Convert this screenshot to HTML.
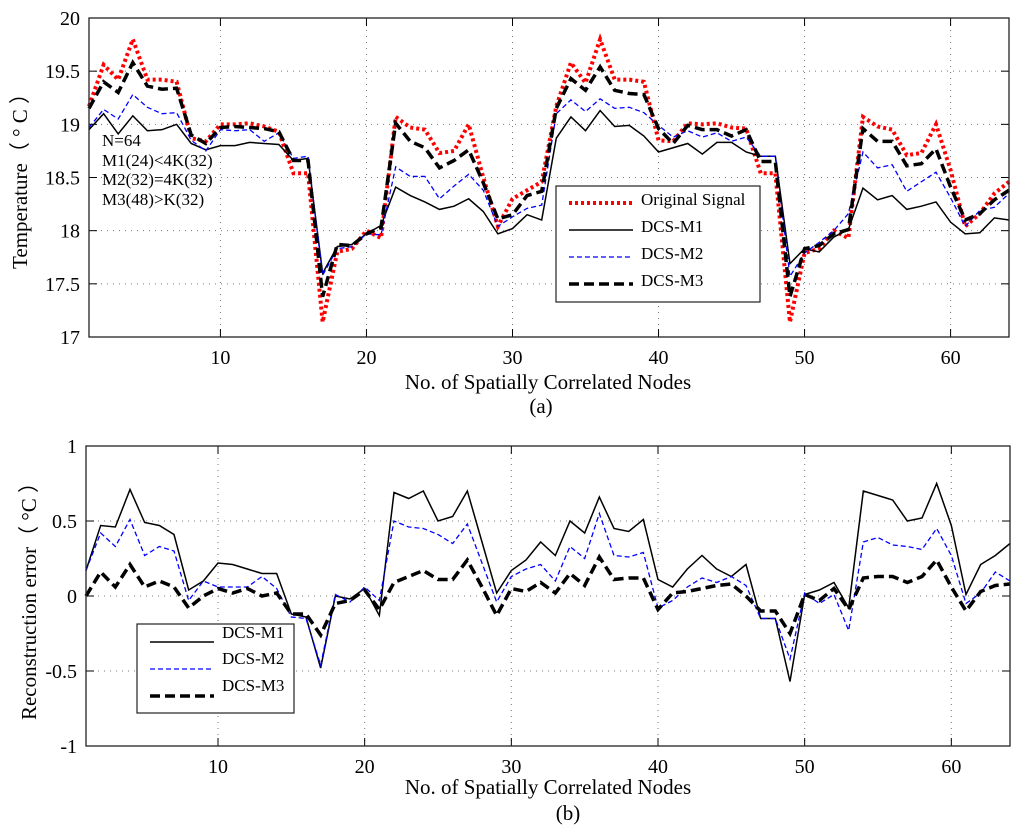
<!DOCTYPE html>
<html><head><meta charset="utf-8"><style>
body{margin:0;background:#fff}
svg{display:block;font-family:"Liberation Serif",serif}
</style></head><body>
<svg id="chart" width="1024" height="836" viewBox="0 0 1024 836"></svg>
<script>
const nodes = Array.from({length:64},(_,i)=>i+1);
const origSignal = [19.17,19.56,19.42,19.8,19.42,19.42,19.4,18.87,18.84,19.0,19.0,19.01,18.98,18.93,18.54,18.54,17.14,17.8,17.83,18.0,17.93,19.07,18.97,18.95,18.73,18.75,19.0,18.5,18.04,18.3,
18.38,18.46,19.17,19.58,19.39,19.8,19.42,19.42,19.4,18.85,18.84,19.01,19.0,19.01,18.97,18.96,18.54,18.54,17.14,17.79,17.83,18.0,17.93,19.07,18.98,18.95,18.71,18.73,19.0,18.57,18.04,18.16,18.35,18.46];
const dcsM1 = [18.95,19.1,18.91,19.08,18.94,18.95,19.0,18.82,18.76,18.8,18.8,18.83,18.82,18.81,18.66,18.68,17.6,17.85,17.87,17.97,18.05,18.41,18.33,18.27,18.2,18.23,18.3,18.18,17.97,18.02,
18.15,18.1,18.87,19.07,18.94,19.13,18.98,18.99,18.89,18.74,18.78,18.82,18.72,18.83,18.83,18.74,18.7,18.7,17.69,17.83,17.8,17.94,18.01,18.4,18.29,18.33,18.2,18.23,18.27,18.08,17.97,17.98,18.12,18.1];
const dcsM2 = [18.97,19.14,19.05,19.28,19.16,19.1,19.11,18.85,18.75,18.95,18.94,18.95,18.84,18.92,18.68,18.7,17.58,17.83,17.85,17.97,17.96,18.6,18.51,18.51,18.3,18.42,18.53,18.38,18.04,18.13,
18.21,18.24,19.1,19.23,19.12,19.24,19.15,19.16,19.11,18.99,18.88,18.94,18.88,18.92,18.84,18.88,18.7,18.7,17.57,17.79,17.89,18.0,18.16,18.74,18.59,18.62,18.37,18.46,18.55,18.31,18.04,18.19,18.22,18.35];
const dcsM3 = [19.15,19.4,19.3,19.58,19.36,19.33,19.34,18.9,18.82,18.97,18.98,18.97,18.96,18.93,18.66,18.66,17.38,17.87,17.86,17.97,18.03,19.01,18.84,18.78,18.59,18.66,18.76,18.45,18.11,18.15,
18.33,18.37,19.15,19.43,19.32,19.54,19.32,19.29,19.28,18.96,18.82,18.99,18.95,18.95,18.89,18.95,18.65,18.65,17.38,17.83,17.86,17.97,18.01,18.96,18.84,18.84,18.61,18.63,18.77,18.41,18.1,18.16,18.29,18.38];
const errM1 = [0.17,0.47,0.46,0.71,0.49,0.47,0.41,0.04,0.1,0.22,0.21,0.18,0.15,0.15,-0.12,-0.14,-0.48,0.0,-0.02,0.05,-0.13,0.69,0.65,0.7,0.5,0.53,0.7,0.36,0.02,0.17,
0.24,0.36,0.27,0.5,0.42,0.66,0.45,0.43,0.51,0.11,0.06,0.18,0.27,0.18,0.13,0.21,-0.15,-0.15,-0.57,0.01,0.04,0.09,-0.08,0.7,0.67,0.64,0.5,0.52,0.75,0.47,0.01,0.21,0.27,0.35];
const errM2 = [0.17,0.42,0.33,0.51,0.27,0.33,0.3,-0.03,0.1,0.06,0.06,0.06,0.13,0.05,-0.14,-0.15,-0.46,0.01,-0.04,0.06,-0.03,0.5,0.46,0.45,0.41,0.35,0.48,0.22,-0.04,0.13,
0.18,0.21,0.1,0.33,0.25,0.55,0.27,0.26,0.29,-0.08,-0.03,0.06,0.12,0.09,0.13,0.07,-0.15,-0.15,-0.42,0.02,-0.05,0.01,-0.23,0.36,0.39,0.34,0.33,0.31,0.45,0.27,-0.05,0.02,0.16,0.1];
const errM3 = [0,0.16,0.06,0.21,0.06,0.1,0.06,-0.08,0,0.05,0.02,0.05,0,0.02,-0.12,-0.12,-0.26,-0.05,-0.03,0.04,-0.09,0.09,0.13,0.17,0.11,0.11,0.24,0.06,-0.13,0.05,
0.03,0.09,0.02,0.15,0.07,0.26,0.11,0.12,0.12,-0.09,0.02,0.03,0.05,0.07,0.08,0,-0.1,-0.1,-0.25,0.01,-0.03,0.05,-0.09,0.12,0.13,0.13,0.09,0.13,0.24,0.06,-0.1,0.03,0.07,0.08];
const xTicks = [10,20,30,40,50,60];
const yTicksTop = [17,17.5,18,18.5,19,19.5,20];
const yTickLabelsTop = ["17","17.5","18","18.5","19","19.5","20"];
const yTicksBot = [-1,-0.5,0,0.5,1];
const yTickLabelsBot = ["-1","-0.5","0","0.5","1"];

const NS="http://www.w3.org/2000/svg";
const svg=document.getElementById('chart');
function mk(tag,attrs,parent){const e=document.createElementNS(NS,tag);for(const k in attrs)e.setAttribute(k,attrs[k]);(parent||svg).appendChild(e);return e;}

function panel(cfg){
  const g=mk('g',{});
  
  
  const xs=v=>cfg.L+(v-1)/(63)*(cfg.R-cfg.L);
  const ys=v=>cfg.B-(v-cfg.y0)/(cfg.y1-cfg.y0)*(cfg.B-cfg.T);
  xTicks.forEach(t=>{const l=mk('line',{x1:xs(t),x2:xs(t),y1:cfg.T,y2:cfg.B,stroke:'#777','stroke-width':1,'stroke-dasharray':'1,5'},g);
    
    mk('line',{x1:xs(t),x2:xs(t),y1:cfg.B,y2:cfg.B-8,stroke:'#000','stroke-width':1},g);
    mk('line',{x1:xs(t),x2:xs(t),y1:cfg.T,y2:cfg.T+8,stroke:'#000','stroke-width':1},g);
    const tx=mk('text',{x:xs(t),y:cfg.B+27,'text-anchor':'middle','font-size':20},g);tx.textContent=t;
    });
  cfg.yt.forEach((t,i)=>{if(t!==cfg.y0&&t!==cfg.y1){const l=mk('line',{x1:cfg.L,x2:cfg.R,y1:ys(t),y2:ys(t),stroke:'#777','stroke-width':1,'stroke-dasharray':'1,5'},g);
    }
    mk('line',{x1:cfg.L,x2:cfg.L+8,y1:ys(t),y2:ys(t),stroke:'#000'},g);
    mk('line',{x1:cfg.R,x2:cfg.R-8,y1:ys(t),y2:ys(t),stroke:'#000'},g);
    const tx=mk('text',{x:cfg.L-9,y:ys(t)+7,'text-anchor':'end','font-size':20},g);tx.textContent=cfg.yl[i];
    });
  cfg.series.forEach(s=>{
    const p=mk('polyline',{points:s.data.map((v,i)=>xs(nodes[i])+','+ys(v)).join(' '),fill:'none',stroke:s.color,'stroke-width':s.w,'stroke-dasharray':s.dash||'none','stroke-linejoin':'miter'},g);
    
  });
  const fr=mk('rect',{x:cfg.L,y:cfg.T,width:cfg.R-cfg.L,height:cfg.B-cfg.T,fill:'none',stroke:'#222','stroke-width':1.3},g);
  
  return g;
}
panel({name:'temperature-panel',L:89,R:1009,T:18,B:337,y0:17,y1:20,yt:yTicksTop,yl:yTickLabelsTop,series:[
  {name:'original-signal-line',data:origSignal,color:'#f00',w:4,dash:'3,3'},
  {name:'dcs-m1-line',data:dcsM1,color:'#000',w:1.5},
  {name:'dcs-m2-line',data:dcsM2,color:'#00f',w:1.3,dash:'5,3'},
  {name:'dcs-m3-line',data:dcsM3,color:'#000',w:3.5,dash:'10,5'}]});
panel({name:'error-panel',L:86,R:1010,T:446,B:746,y0:-1,y1:1,yt:yTicksBot,yl:yTickLabelsBot,series:[
  {name:'error-m1-line',data:errM1,color:'#000',w:1.5},
  {name:'error-m2-line',data:errM2,color:'#00f',w:1.3,dash:'5,3'},
  {name:'error-m3-line',data:errM3,color:'#000',w:3.5,dash:'10,5'}]});
</script>
<div style="position:absolute;left:0;top:0;width:1024px;height:836px;pointer-events:none">
<svg width="1024" height="836" style="font-family:'Liberation Serif',serif">
 <text transform="translate(27,176) rotate(-90)" text-anchor="middle" font-size="21">Temperature（ ° C ）</text>
 <text x="548" y="389" text-anchor="middle" font-size="21">No. of Spatially Correlated Nodes</text>
 <text x="541" y="413" text-anchor="middle" font-size="21">(a)</text>
 <g font-size="17">
  <text x="102" y="146">N=64</text><text x="102" y="166">M1(24)&lt;4K(32)</text>
  <text x="102" y="185">M2(32)=4K(32)</text><text x="102" y="205">M3(48)&gt;K(32)</text>
 </g>
 <g>
  <rect x="556" y="186" width="204" height="116" fill="#fff" stroke="#222" stroke-width="1.2"/>
  <line x1="569" x2="633" y1="203" y2="203" stroke="#f00" stroke-width="4" stroke-dasharray="3,3"/>
  <text x="641" y="205" font-size="17">Original Signal</text>
  <line x1="569" x2="633" y1="230" y2="230" stroke="#000" stroke-width="1.5"/>
  <text x="641" y="232" font-size="17">DCS-M1</text>
  <line x1="569" x2="633" y1="257" y2="257" stroke="#00f" stroke-width="1.3" stroke-dasharray="5,3"/>
  <text x="641" y="259" font-size="17">DCS-M2</text>
  <line x1="569" x2="633" y1="284" y2="284" stroke="#000" stroke-width="3.5" stroke-dasharray="10,5"/>
  <text x="641" y="286" font-size="17">DCS-M3</text>
 </g>
 <text transform="translate(36,596) rotate(-90)" text-anchor="middle" font-size="21">Reconstruction error（ °C ）</text>
 <text x="548" y="794" text-anchor="middle" font-size="21">No. of Spatially Correlated Nodes</text>
 <text x="568" y="820" text-anchor="middle" font-size="21">(b)</text>
 <g>
  <rect x="137" y="624" width="157" height="89" fill="#fff" stroke="#222" stroke-width="1.2"/>
  <line x1="150" x2="214" y1="642" y2="642" stroke="#000" stroke-width="1.5"/>
  <text x="222" y="638" font-size="17">DCS-M1</text>
  <line x1="150" x2="214" y1="669" y2="669" stroke="#00f" stroke-width="1.3" stroke-dasharray="5,3"/>
  <text x="222" y="664" font-size="17">DCS-M2</text>
  <line x1="150" x2="214" y1="696" y2="696" stroke="#000" stroke-width="3.5" stroke-dasharray="10,5"/>
  <text x="222" y="691" font-size="17">DCS-M3</text>
 </g>
</svg>
</div>
</body></html>
